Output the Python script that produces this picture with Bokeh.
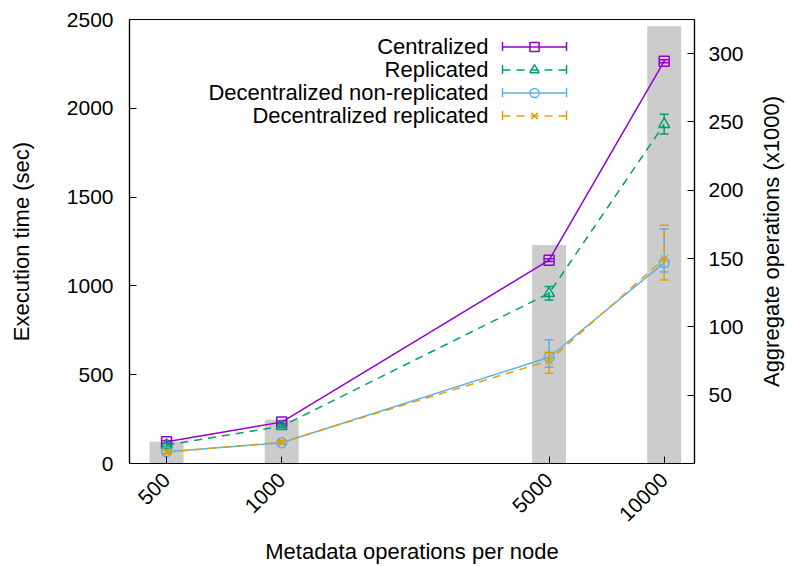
import math
from bokeh.plotting import figure
from bokeh.layouts import row
from bokeh.core.properties import value
from bokeh.models import (Range1d, LinearAxis, FixedTicker, TeeHead, ColumnDataSource,
                          Legend, LegendItem, Label, Arrow, NumeralTickFormatter)
from bokeh.embed import file_html
from bokeh.resources import INLINE

# ---------------- data ----------------
ops = [500, 1000, 5000, 10000]
aggregate_k = [16, 32, 160, 320]          # aggregate operations (x1000)

centralized = [122, 233, 1145, 2265]
centralized_lo = [114, 225, 1137, 2256]
centralized_hi = [130, 241, 1153, 2274]

replicated = [104, 210, 958, 1910]
replicated_lo = [96, 201, 921, 1855]
replicated_hi = [112, 219, 996, 1967]

dec_nonrep = [66, 117, 598, 1131]
dec_nonrep_lo = [58, 109, 542, 1078]
dec_nonrep_hi = [75, 126, 697, 1321]

dec_rep = [64, 120, 579, 1153]
dec_rep_lo = [53, 111, 508, 1033]
dec_rep_hi = [76, 130, 626, 1341]

series_names = ["Centralized", "Replicated", "Decentralized non-replicated", "Decentralized replicated"]
left_ticks = [0, 500, 1000, 1500, 2000, 2500]
right_ticks = [50, 100, 150, 200, 250, 300]
right_axis_title = "Aggregate operations (x1000)"

# ---------------- styling ----------------
FONT = "Liberation Sans"
TICK_SIZE = "21px"
LABEL_SIZE = "22px"
colors = ["#9400d3", "#009e73", "#56b4e9", "#e69f00"]
dashes = ["solid", "8 6", "solid", "8 6"]
markers = ["square", "triangle", "circle", "x"]
msizes = [10, 11, 10, 10]
CAP = 9
BAR_HALF = 10 ** 0.0444   # bar half width as log-factor
TITLE_W = 30              # strip holding the right axis title

p = figure(width=787 - TITLE_W, height=566, x_axis_type="log",
           x_range=Range1d(400, 12000), y_range=Range1d(0, 2500),
           output_backend="svg", toolbar_location=None,
           min_border_left=129, min_border_right=93 - TITLE_W, min_border_top=19, min_border_bottom=101)
p.extra_y_ranges = {"agg": Range1d(0, 325)}
p.grid.visible = False
p.outline_line_color = "black"
p.outline_line_width = 1.2
p.background_fill_color = "white"

# bars (aggregate operations)
bar_src = ColumnDataSource(dict(
    left=[x / BAR_HALF for x in ops], right=[x * BAR_HALF for x in ops],
    top=aggregate_k, bottom=[0] * len(ops)))
p.quad(left="left", right="right", top="top", bottom="bottom", source=bar_src,
       y_range_name="agg", fill_color="#cccccc", line_color=None)

vals = [centralized, replicated, dec_nonrep, dec_rep]
los = [centralized_lo, replicated_lo, dec_nonrep_lo, dec_rep_lo]
his = [centralized_hi, replicated_hi, dec_nonrep_hi, dec_rep_hi]

legend_items = []
for i in range(4):
    src = ColumnDataSource(dict(x=ops, y=vals[i], lo=los[i], hi=his[i]))
    # error bars
    p.segment(x0="x", y0="lo", x1="x", y1="hi", source=src, line_color=colors[i],
              line_width=1.5, line_dash=dashes[i])
    p.scatter("x", "lo", source=src, marker="dash", size=CAP, line_color=colors[i], line_width=1.5)
    p.scatter("x", "hi", source=src, marker="dash", size=CAP, line_color=colors[i], line_width=1.5)
    lr = p.line("x", "y", source=src, line_color=colors[i], line_width=1.5, line_dash=dashes[i])
    sr = p.scatter("x", "y", source=src, marker=markers[i], size=msizes[i],
                   line_color=colors[i], fill_color=None, line_width=1.5)
    legend_items.append(LegendItem(label=" ", renderers=[lr, sr]))

# axes
ax = p.xaxis[0]
ax.ticker = FixedTicker(ticks=ops)
ax.formatter = NumeralTickFormatter(format="0")
ax.axis_label = "Metadata operations per node"
ax.major_label_orientation = 0.785398
ax.major_label_standoff = 13
ax.major_label_text_baseline = "top"
ax.axis_label_standoff = 8

ay = p.yaxis[0]
ay.ticker = FixedTicker(ticks=left_ticks)
ay.axis_label = "Execution time (sec)"
ay.major_label_standoff = 16
ay.axis_label_standoff = 30

ay2 = LinearAxis(y_range_name="agg", ticker=FixedTicker(ticks=right_ticks))
ay2.major_label_standoff = 14
p.add_layout(ay2, "right")

for a in [ax, ay, ay2]:
    a.axis_line_color = "black"
    a.axis_line_width = 1.2
    a.major_tick_line_color = "black"
    a.major_tick_in = 7
    a.major_tick_out = 0
    a.minor_tick_line_color = None
    a.major_label_text_font = FONT
    a.major_label_text_font_size = TICK_SIZE
    a.major_label_text_color = "black"
    a.axis_label_text_font = FONT
    a.axis_label_text_font_size = LABEL_SIZE
    a.axis_label_text_font_style = "normal"
    a.axis_label_text_color = "black"

# legend: sample glyphs on the right, texts right-aligned on the left
ROW_H = 23
LEG_X = 373
LEG_TOP = 428.5   # from frame bottom
legend = Legend(items=legend_items, location=(LEG_X, LEG_TOP - 4 * ROW_H),
                glyph_width=64, glyph_height=ROW_H, label_height=ROW_H, label_width=0,
                label_standoff=0, spacing=0, padding=0, margin=0,
                label_text_font_size="1px", border_line_alpha=0, background_fill_alpha=0)
p.add_layout(legend)

for i, name in enumerate(series_names):
    yc = LEG_TOP - ROW_H * i - ROW_H / 2
    p.add_layout(Label(x=LEG_X - 14, y=yc, x_units="screen", y_units="screen", text=name,
                       text_align="right", text_baseline="middle", text_font=FONT,
                       text_font_size=LABEL_SIZE, text_color="black"))
    p.add_layout(Arrow(x_start=LEG_X, y_start=yc, x_end=LEG_X + 64, y_end=yc,
                       start_units="screen", end_units="screen", line_alpha=0,
                       start=TeeHead(size=CAP, line_color=colors[i], line_width=1.5),
                       end=TeeHead(size=CAP, line_color=colors[i], line_width=1.5)))

# narrow strip carrying the right axis title (reads bottom-to-top)
t = figure(width=TITLE_W, height=566, x_range=Range1d(0, 1), y_range=Range1d(0, 1),
           output_backend="svg", toolbar_location=None,
           min_border_left=0, min_border_right=0, min_border_top=19, min_border_bottom=101)
t.axis.visible = False
t.grid.visible = False
t.outline_line_color = None
t.text(x=[0.47], y=[0.5], text=[right_axis_title], angle=math.pi / 2,
       text_align="center", text_baseline="middle", text_font=value(FONT),
       text_font_size=value(LABEL_SIZE), text_color="black")

layout = row(p, t, spacing=0)
open("out.html", "w").write(file_html(layout, INLINE))
